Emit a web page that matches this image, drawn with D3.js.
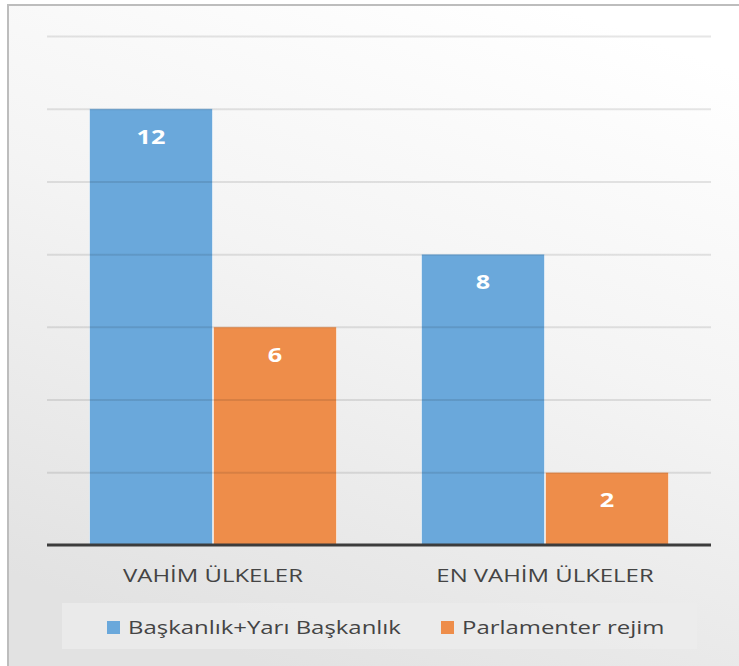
<!DOCTYPE html>
<html><head><meta charset="utf-8">
<script src="https://cdn.jsdelivr.net/npm/d3@7"></script>
<style>html,body{margin:0;padding:0;background:#fff;}svg{display:block;}</style>
</head><body>
<svg id="c" width="739" height="666"></svg>
<script>
const categories = ["VAHİM ÜLKELER", "EN VAHİM ÜLKELER"];
const seriesNames = ["Başkanlık+Yarı Başkanlık", "Parlamenter rejim"];
const baskanlik = [12, 8];
const parlamenter = [6, 2];
const yTicks = [0, 2, 4, 6, 8, 10, 12, 14];
const colors = ["#6aa8db", "#ee8d4a"];

(function(){
const SX = 1.33; // the picture is horizontally stretched
const svg = d3.select("#c");
const defs = svg.append("defs");
const bg = defs.append("linearGradient").attr("id","bg").attr("x1","0.75").attr("y1","0").attr("x2","0.35").attr("y2","1");
bg.append("stop").attr("offset","0").attr("stop-color","#ffffff");
bg.append("stop").attr("offset","0.45").attr("stop-color","#f4f4f4");
bg.append("stop").attr("offset","1").attr("stop-color","#e2e2e2");
const gg = defs.append("linearGradient").attr("id","grid").attr("gradientUnits","userSpaceOnUse")
  .attr("x1",0).attr("y1",30).attr("x2",0).attr("y2",480);
gg.append("stop").attr("offset","0").attr("stop-color","#000").attr("stop-opacity",0.1);
gg.append("stop").attr("offset","1").attr("stop-color","#000").attr("stop-opacity",0.42);

svg.append("rect").attr("x",0).attr("y",0).attr("width",739).attr("height",666).attr("fill","#fff");
svg.append("rect").attr("x",8).attr("y",5).attr("width",731).attr("height",661).attr("fill","url(#bg)");
svg.append("path").attr("d","M8,666 V5 H739").attr("fill","none").attr("stroke","#bdbdbd").attr("stroke-width",2);

const pL = 47, pR = 711, pT = 36, pB = 545;
const x0 = d3.scaleBand().domain(categories).range([pL, pR]).paddingInner(0.253).paddingOuter(0.1265);
const x1 = d3.scaleBand().domain(seriesNames).range([0, x0.bandwidth()]).padding(0);
const y = d3.scaleLinear().domain([0, 14]).range([pB, pT]);

const data = categories.map((c,i)=>({cat:c, vals:[baskanlik[i], parlamenter[i]]}));

const g = svg.append("g");
data.forEach(d=>{
  d.vals.forEach((v,j)=>{
    const bx = x0(d.cat) + x1(seriesNames[j]);
    g.append("rect").attr("x",bx+0.5).attr("y",y(v)).attr("width",x1.bandwidth()-1).attr("height",pB-y(v))
      .attr("fill",colors[j]).attr("stroke","rgba(255,255,255,0.55)").attr("stroke-width",1);
    g.append("text").attr("transform",`translate(${bx+x1.bandwidth()/2},${y(v)+35}) scale(${SX},1)`)
      .attr("text-anchor","middle")
      .attr("font-family","'Open Sans', sans-serif").attr("font-weight","bold").attr("font-size","19px")
      .attr("fill","#ffffff").text(v);
  });
});

const grid = svg.append("g").attr("transform",`translate(${pL},0)`)
  .call(d3.axisLeft(y).tickValues(yTicks.filter(t=>t>0)).tickSize(-(pR-pL)).tickFormat(""));
grid.select(".domain").remove();
grid.selectAll(".tick line").attr("stroke","url(#grid)").attr("stroke-width",2);

const xa = svg.append("g").attr("transform",`translate(0,${pB})`).call(d3.axisBottom(x0).tickSize(0).tickPadding(0));
xa.select(".domain").attr("d",`M${pL},0H${pR}`).attr("stroke","#3c3c3c").attr("stroke-width",3);
xa.selectAll(".tick text").attr("y",0).attr("dy",0).attr("transform",`translate(0,37) scale(${SX},1)`)
  .attr("font-family","'Open Sans', sans-serif")
  .attr("font-size","18px").attr("fill","#444444");

svg.append("rect").attr("x",62).attr("y",603).attr("width",635).attr("height",46).attr("fill","#ececec").attr("opacity",0.75);
const legX = [107, 441];
seriesNames.forEach((s,j)=>{
  svg.append("rect").attr("x",legX[j]).attr("y",621).attr("width",13).attr("height",13).attr("fill",colors[j]);
  svg.append("text").attr("transform",`translate(${legX[j]+21},634) scale(${SX},1)`)
    .attr("font-family","'Open Sans', sans-serif")
    .attr("font-size","18px").attr("fill","#444444").text(s);
});
})();
</script>
</body></html>
